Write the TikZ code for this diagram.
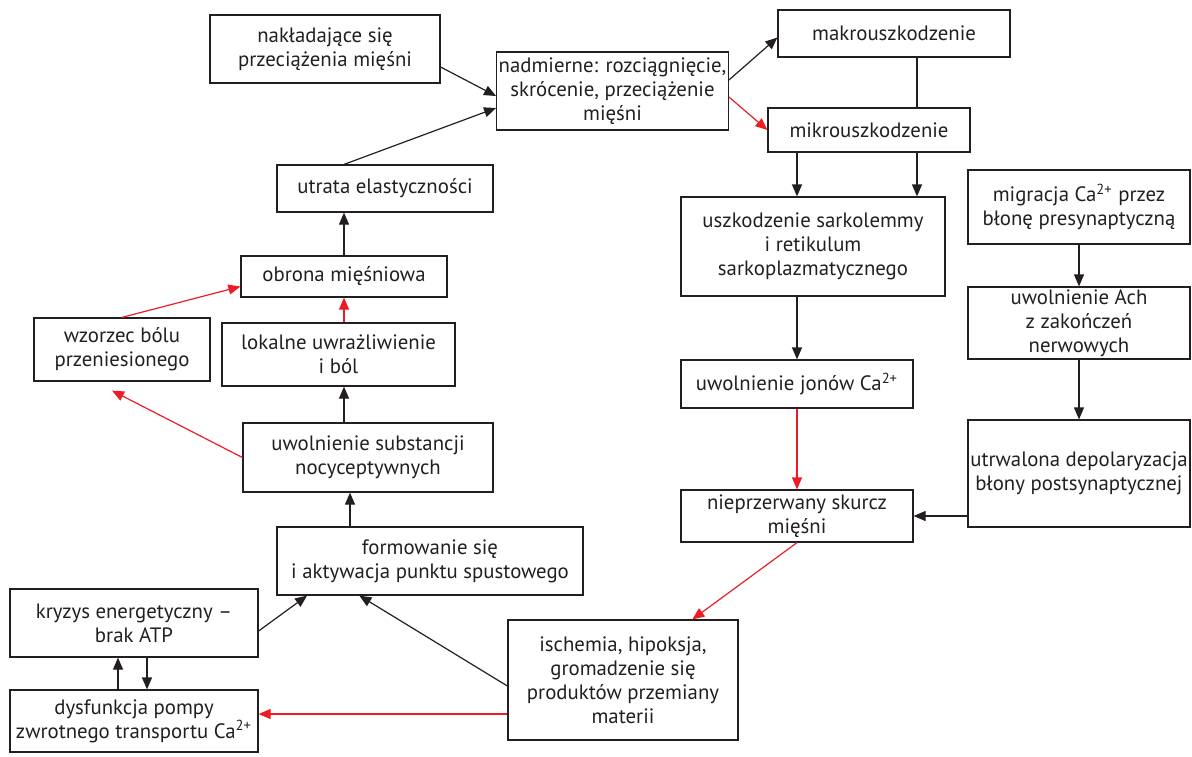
\documentclass[tikz,border=0pt]{standalone}
\usepackage{fontspec}
\setmainfont{PT Sans}
\usetikzlibrary{arrows.meta,calc}
\definecolor{ink}{HTML}{231F20}
\definecolor{alarm}{HTML}{ED1C24}

\begin{document}
\begin{tikzpicture}[x=0.5pt,y=-0.5pt,
    box/.style={draw=ink, line width=0.6pt, align=center, inner sep=1pt, text=ink,
      font=\fontsize{10.4}{12}\selectfont},
    link/.style={draw=ink, line width=0.6pt},
    arr/.style={link, -{Triangle[length=6pt,width=5pt]}},
    redarr/.style={arr, draw=alarm}]
  \useasboundingbox (0,0) rectangle (1192,756);
  % Define the boxes of the upper part
  \node[box, minimum width=115pt, minimum height=34pt] (overload) at (325,49) {nakładające się\\przeciążenia mięśni};
  \node[box, minimum width=115.5pt, minimum height=39pt] (strain) at (612.5,91) {nadmierne: rozciągnięcie,\\skrócenie, przeciążenie\\mięśni};
  \node[box, minimum width=116pt, minimum height=23.5pt] (macro) at (894,33.5) {makrouszkodzenie};
  \node[box, minimum width=101pt, minimum height=22pt] (micro) at (869,130) {mikrouszkodzenie};
  % Define the middle column
  \node[box, minimum width=132pt, minimum height=49.5pt] (sarco) at (813,246.5) {uszkodzenie sarkolemmy\\i retikulum\\sarkoplazmatycznego};
  \node[box, minimum width=116pt, minimum height=24pt] (calcium) at (797,384) {uwolnienie jonów Ca\textsuperscript{2+}};
  \node[box, minimum width=116pt, minimum height=26pt] (contract) at (797,516) {nieprzerwany skurcz\\mięśni};
  % Define the right column
  \node[box, minimum width=111pt, minimum height=37pt] (migr) at (1079,207) {migracja Ca\textsuperscript{2+} przez\\błonę presynaptyczną};
  \node[box, minimum width=111pt, minimum height=36pt] (ach) at (1079,323) {uwolnienie Ach\\z zakończeń\\nerwowych};
  \node[box, minimum width=111pt, minimum height=53.5pt] (depol) at (1079,473.5) {utrwalona depolaryzacja\\błony postsynaptycznej};
  % Define the bottom boxes
  \node[box, minimum width=115pt, minimum height=60pt] (ischemia) at (623,680) {ischemia, hipoksja,\\gromadzenie się\\produktów przemiany\\materii};
  \node[box, minimum width=124pt, minimum height=31pt] (pump) at (134,721) {dysfunkcja pompy\\zwrotnego transportu Ca\textsuperscript{2+}};
  \node[box, minimum width=124pt, minimum height=34pt] (crisis) at (134,623) {kryzys energetyczny –\\brak ATP};
  \node[box, minimum width=153pt, minimum height=34pt] (trigger) at (430,561) {formowanie się\\i aktywacja punktu spustowego};
  % Define the left column
  \node[box, minimum width=108pt, minimum height=23.5pt] (elast) at (385,188.5) {utrata elastyczności};
  \node[box, minimum width=103pt, minimum height=20.5pt] (guard) at (344,276.5) {obrona mięśniowa};
  \node[box, minimum width=116.5pt, minimum height=31.5pt] (sens) at (338.5,354.5) {lokalne uwrażliwienie\\i ból};
  \node[box, minimum width=88pt, minimum height=31.5pt] (referred) at (122,349.5) {wzorzec bólu\\przeniesionego};
  \node[box, minimum width=125pt, minimum height=34.5pt] (noci) at (368,457.5) {uwolnienie substancji\\nocyceptywnych};
  % Named coordinates for the vertical lines
  \coordinate (rline) at (917,0);
  \coordinate (tline) at (350,0);
  % Connectors of the upper part
  \draw[arr] ($(overload.east)+(0,18)$) -- ($(strain.west)+(0,5)$);
  \draw[arr] (elast.north -| guard) -- ($(strain.west)+(0,17)$);
  \draw[arr] ($(strain.east)+(0,-11)$) -- ($(macro.west)+(0,4)$);
  \draw[redarr] ($(strain.east)+(0,6)$) -- (micro.west);
  \draw[link] (macro.south -| rline) -- (micro.north -| rline);
  \draw[arr] (micro.south -| calcium) -- (sarco.north -| calcium);
  \draw[arr] (micro.south -| rline) -- (sarco.north -| rline);
  % Connectors of the middle and right columns
  \draw[arr] (sarco.south -| calcium) -- (calcium.north);
  \draw[redarr] (calcium.south) -- (contract.north);
  \draw[arr] (migr.south) -- (ach.north);
  \draw[arr] (ach.south) -- (depol.north);
  \draw[arr] (depol.west |- contract) -- (contract.east);
  \draw[redarr] (contract.south) -- ($(ischemia.north west)!0.8!(ischemia.north east)$);
  % Connectors of the bottom part
  \draw[redarr] ($(ischemia.west)+(0,34)$) coordinate (iw) -- (pump.east |- iw);
  \draw[arr] ($(ischemia.west)+(0,6)$) -- ($(trigger.south west)!0.27!(trigger.south east)$);
  \draw[arr] ($(crisis.east)+(0,8)$) -- ($(trigger.south west)!0.1!(trigger.south east)$);
  \draw[arr] ($(pump.north)+(-16,0)$) -- ($(crisis.south)+(-16,0)$);
  \draw[arr] ($(crisis.south)+(13,0)$) -- ($(pump.north)+(13,0)$);
  % Connectors of the left column
  \draw[arr] (trigger.north -| tline) -- (noci.south -| tline);
  \draw[arr] (noci.north -| guard) -- (sens.south -| guard);
  \draw[redarr] (sens.north -| guard) -- (guard.south);
  \draw[arr] (guard.north) -- (elast.south -| guard);
  \draw[redarr] (noci.west) -- ($(referred.south)+(-10,9)$);
  \draw[redarr] (referred.north) -- ($(guard.west)+(0,10)$);
\end{tikzpicture}
\end{document}
